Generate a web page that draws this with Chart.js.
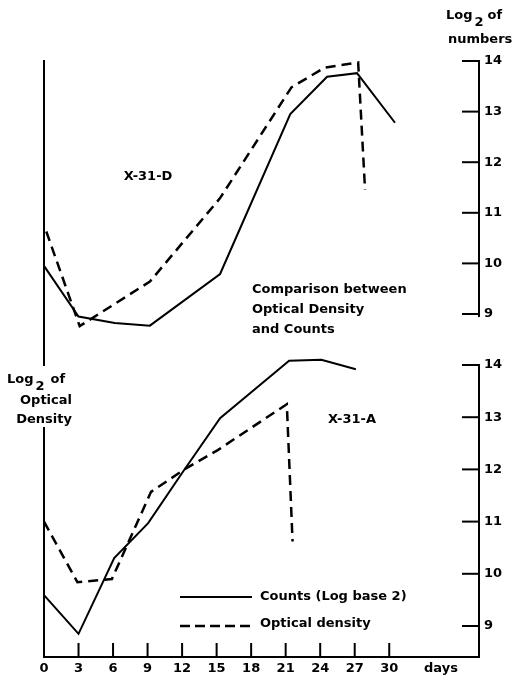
<!DOCTYPE html>
<html>
<head>
<meta charset="utf-8">
<script src="https://cdn.jsdelivr.net/npm/chart.js@4.4.1/dist/chart.umd.min.js"></script>
<style>
  html, body { margin: 0; padding: 0; background: #fff; }
  canvas { display: block; }
</style>
</head>
<body>
<canvas id="chart" width="522" height="680"></canvas>
<script>
// X-31-D (upper panel)
const dCountDays = [0, 3, 6.15, 9.2, 15.3, 21.4, 24.6, 27.2, 30.5];
const dCounts    = [9.95, 8.95, 8.82, 8.77, 9.79, 12.95, 13.69, 13.76, 12.78];
const dOdDays    = [0.2, 3.1, 9.2, 15.3, 21.5, 24.4, 27.3, 27.9];
const dOd        = [10.63, 8.76, 9.64, 11.29, 13.48, 13.87, 13.97, 11.45];

// X-31-A (lower panel)
const aCountDays = [0, 3, 6.1, 9.05, 12, 15.3, 21.3, 24.1, 27.1];
const aCounts    = [9.59, 8.85, 10.3, 10.97, 11.93, 12.98, 14.08, 14.1, 13.92];
const aOdDays    = [0, 2.9, 5.9, 9.3, 12.2, 15.1, 21.1, 21.6];
const aOd        = [11.0, 9.84, 9.9, 11.57, 12.0, 12.37, 13.25, 10.62];

const dayTicks  = [0, 3, 6, 9, 12, 15, 18, 21, 24, 27, 30];
const log2Ticks = [9, 10, 11, 12, 13, 14];

const FONT = '"DejaVu Sans", sans-serif';
Chart.defaults.font.family = FONT;
Chart.defaults.color = '#000';

function pts(xs, ys) {
    return xs.map((x, i) => ({ x: x, y: ys[i] }));
}

function line(ctx, x1, y1, x2, y2) {
    ctx.beginPath();
    ctx.moveTo(x1, y1);
    ctx.lineTo(x2, y2);
    ctx.stroke();
}

// "Log" with a lowered 2, then "of"
function logTwoOf(ctx, x, y, gap) {
    ctx.fillText('Log', x, y);
    let w = ctx.measureText('Log').width;
    ctx.fillText('2', x + w + 2, y + 7);
    w += 2 + ctx.measureText('2').width;
    ctx.fillText('of', x + w + gap, y);
}

const paper = {
    id: 'paper',
    beforeDraw(chart) {
        const ctx = chart.ctx;
        ctx.save();
        ctx.fillStyle = '#fff';
        ctx.fillRect(0, 0, chart.width, chart.height);
        ctx.restore();
    },
    afterDraw(chart) {
        const ctx = chart.ctx;
        const a = chart.chartArea;
        const x = chart.scales.x, yt = chart.scales.yTop, yb = chart.scales.yBot;
        ctx.save();
        ctx.strokeStyle = '#000';
        ctx.lineWidth = 2;

        // left axis, broken behind its label
        line(ctx, a.left, a.top, a.left, 366);
        line(ctx, a.left, 427, a.left, a.bottom + 1);
        // time axis
        line(ctx, a.left - 1, a.bottom, a.right + 1, a.bottom);
        // right axes
        line(ctx, a.right, yt.getPixelForValue(14) - 1, a.right, yt.getPixelForValue(8.94));
        line(ctx, a.right, yb.getPixelForValue(14) - 1, a.right, a.bottom);

        dayTicks.forEach(d => {
            if (d === 0) return;
            const px = x.getPixelForValue(d);
            line(ctx, px, a.bottom, px, a.bottom - 14);
        });
        log2Ticks.forEach(v => {
            [yt, yb].forEach(s => {
                const py = s.getPixelForValue(v);
                line(ctx, a.right - 17, py, a.right, py);
            });
        });

        // legend
        line(ctx, 180, 597, 252, 597);
        ctx.lineWidth = 2.5;
        ctx.setLineDash([10, 5]);
        line(ctx, 180, 626, 252, 626);
        ctx.setLineDash([]);

        ctx.fillStyle = '#000';
        ctx.font = 'bold 13px ' + FONT;
        ctx.textBaseline = 'alphabetic';
        ctx.textAlign = 'left';

        logTwoOf(ctx, 446, 19, 4);
        ctx.fillText('numbers', 448, 43);

        logTwoOf(ctx, 7, 383, 6);
        ctx.textAlign = 'right';
        ctx.fillText('Optical', 72, 404);
        ctx.fillText('Density', 72, 423);

        ctx.textAlign = 'center';
        ctx.fillText('X-31-D', 148, 180);
        ctx.fillText('X-31-A', 352, 423);

        ctx.textAlign = 'left';
        ctx.fillText('Comparison between', 252, 293);
        ctx.fillText('Optical Density', 252, 313);
        ctx.fillText('and Counts', 252, 333);

        ctx.textBaseline = 'middle';
        ctx.fillText('Counts (Log base 2)', 260, 597);
        ctx.fillText('Optical density', 260, 624);
        ctx.fillText('days', 424, 669);

        ctx.restore();
    }
};

function series(label, data, axis, dashed) {
    return {
        label: label,
        data: data,
        yAxisID: axis,
        borderColor: '#000',
        borderWidth: dashed ? 2.5 : 2,
        borderDash: dashed ? [10, 6] : [],
        pointRadius: 0,
        tension: 0,
        fill: false,
        clip: false
    };
}

function yScale(weight, min, max) {
    return {
        type: 'linear',
        position: 'right',
        stack: 'panels',
        stackWeight: weight,
        min: min,
        max: max,
        grid: { display: false, drawTicks: false },
        border: { display: false },
        afterBuildTicks: s => { s.ticks = log2Ticks.map(v => ({ value: v })); },
        afterFit: s => { s.width = 43; },
        ticks: { color: '#000', padding: 5, font: { size: 13, weight: 'bold' } }
    };
}

const ctx = document.getElementById('chart').getContext('2d');
const myChart = new Chart(ctx, {
    type: 'line',
    data: {
        datasets: [
            series('X-31-D counts', pts(dCountDays, dCounts), 'yTop', false),
            series('X-31-D optical density', pts(dOdDays, dOd), 'yTop', true),
            series('X-31-A counts', pts(aCountDays, aCounts), 'yBot', false),
            series('X-31-A optical density', pts(aOdDays, aOd), 'yBot', true)
        ]
    },
    options: {
        responsive: false,
        animation: false,
        layout: { padding: { top: 60, left: 44, right: 0, bottom: 0 } },
        plugins: {
            legend: { display: false },
            tooltip: { enabled: false }
        },
        scales: {
            x: {
                type: 'linear',
                min: 0,
                max: 37.8,
                grid: { display: false, drawTicks: false },
                border: { display: false },
                afterBuildTicks: s => { s.ticks = dayTicks.map(v => ({ value: v })); },
                afterFit: s => { s.height = 23; },
                ticks: { color: '#000', padding: 4, maxRotation: 0, autoSkip: false, font: { size: 13, weight: 'bold' } }
            },
            yTop: yScale(280, 8.486, 14.02),
            yBot: yScale(317, 8.406, 14.479)
        }
    },
    plugins: [paper]
});
</script>
</body>
</html>
